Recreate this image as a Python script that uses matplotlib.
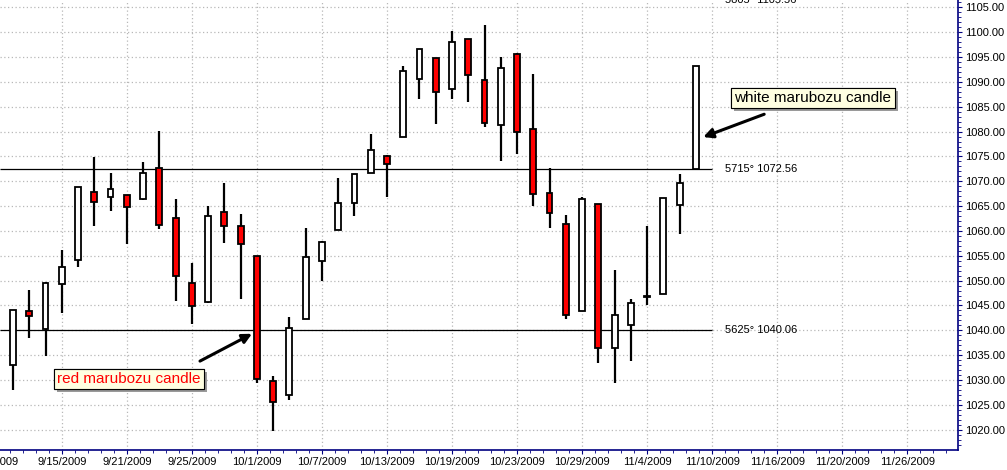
import numpy as np
import matplotlib
matplotlib.use("Agg")
from matplotlib import pyplot as plt
from matplotlib import transforms
from matplotlib import patheffects
from matplotlib.ticker import FixedLocator

plt.rcParams['font.family'] = ['Liberation Sans', 'DejaVu Sans']

# daily S&P 500 candles, 9/10/2009 - 11/9/2009
days = ["9/10", "9/11", "9/14", "9/15", "9/16", "9/17", "9/18", "9/21", "9/22", "9/23",
        "9/24", "9/25", "9/28", "9/29", "9/30", "10/1", "10/2", "10/5", "10/6", "10/7",
        "10/8", "10/9", "10/12", "10/13", "10/14", "10/15", "10/16", "10/19", "10/20", "10/21",
        "10/22", "10/23", "10/26", "10/27", "10/28", "10/29", "10/30", "11/2", "11/3", "11/4",
        "11/5", "11/6", "11/9"]
opens = [1033.0, 1043.9, 1040.2, 1049.3, 1054.1, 1067.9, 1066.8, 1067.2, 1066.4, 1072.6,
         1062.7, 1049.5, 1045.7, 1063.8, 1061.0, 1055.0, 1029.8, 1026.9, 1042.2, 1054.0,
         1060.1, 1065.7, 1071.7, 1075.1, 1078.9, 1090.6, 1094.9, 1088.5, 1098.6, 1090.4,
         1081.3, 1095.6, 1080.5, 1067.7, 1061.5, 1043.8, 1065.4, 1036.4, 1041.1, 1047.0,
         1047.3, 1065.2, 1072.4]
highs = [1044.1, 1048.1, 1049.7, 1056.2, 1068.9, 1074.9, 1071.7, 1067.3, 1073.9, 1080.1,
         1066.4, 1053.5, 1065.1, 1069.6, 1063.4, 1055.0, 1030.7, 1042.6, 1060.6, 1058.0,
         1070.6, 1071.5, 1079.5, 1075.3, 1093.2, 1096.6, 1094.9, 1100.2, 1098.6, 1101.4,
         1095.1, 1095.8, 1091.7, 1072.6, 1063.2, 1066.8, 1065.4, 1052.2, 1046.3, 1061.0,
         1066.7, 1071.5, 1093.3]
lows = [1028.0, 1038.4, 1034.9, 1043.4, 1052.8, 1061.0, 1064.1, 1057.4, 1066.3, 1060.3,
        1045.8, 1041.2, 1045.4, 1057.6, 1046.4, 1029.4, 1019.8, 1025.9, 1042.2, 1049.9,
        1060.1, 1063.0, 1071.6, 1066.8, 1078.9, 1086.5, 1081.5, 1086.5, 1086.0, 1080.9,
        1074.1, 1075.4, 1065.1, 1060.5, 1042.3, 1043.8, 1033.4, 1029.4, 1033.9, 1045.0,
        1047.3, 1059.3, 1072.4]
closes = [1044.1, 1042.9, 1049.5, 1052.8, 1068.9, 1065.8, 1068.5, 1064.8, 1071.7, 1061.2,
          1050.9, 1044.8, 1063.0, 1060.9, 1057.4, 1030.2, 1025.5, 1040.4, 1054.8, 1057.7,
          1065.6, 1071.5, 1076.3, 1073.5, 1092.2, 1096.6, 1088.0, 1098.0, 1091.4, 1081.7,
          1092.9, 1079.9, 1067.4, 1063.7, 1043.0, 1066.4, 1036.4, 1043.0, 1045.5, 1046.7,
          1066.7, 1069.6, 1093.3]

# axis labels every 4 trading days, starting one day before the first candle
date_labels = ["9/9/2009", "9/15/2009", "9/21/2009", "9/25/2009", "10/1/2009", "10/7/2009",
               "10/13/2009", "10/19/2009", "10/23/2009", "10/29/2009", "11/4/2009",
               "11/10/2009", "11/16/2009", "11/20/2009", "11/26/2009"]

# angle levels
level_angles = ["5625°", "5715°", "5805°"]
level_prices = [1040.06, 1072.56, 1105.56]

navy = '#000080'

fig = plt.figure(figsize=(10.07, 4.70), dpi=100)
ax = fig.add_axes([0, 1 - 450 / 470, 958 / 1007, 450 / 470])

x = np.arange(len(days))
o = np.array(opens)
c = np.array(closes)
up = c >= o

# wicks
ax.vlines(x, lows, highs, color='black', lw=1.6, zorder=3)
# bodies
body_bottom = np.minimum(o, c)
body_height = np.maximum(np.abs(c - o), 0.15)
colors = ['white' if u else '#ff0000' for u in up]
ax.bar(x, body_height, bottom=body_bottom, width=0.36, color=colors,
       edgecolor='black', linewidth=1.3, zorder=4)

# angle level lines
xmin_lim, xmax_lim = -0.8, 58.12
for ang, price in zip(level_angles[:2], level_prices[:2]):
    ax.hlines(price, xmin_lim, 43.0, color='black', lw=0.9, zorder=2)
    ax.text(43.8, price, ang + " " + "%.2f" % price, fontsize=8, va='center', ha='left')
ax.text(43.8, 1106.6, level_angles[2] + " " + "%.2f" % level_prices[2], fontsize=8,
        va='center', ha='left', clip_on=False)

ax.set_xlim(xmin_lim, xmax_lim)
ax.set_ylim(1015.9, 1106.5)

# x ticks
major_x = [-1 + 4 * k for k in range(len(date_labels))]
ax.set_xticks(major_x[1:])
ax.set_xticklabels(date_labels[1:])
ax.xaxis.set_minor_locator(FixedLocator(np.arange(-1, 59, 0.8)))
ax.text(-1, -0.016, date_labels[0], transform=transforms.blended_transform_factory(ax.transData, ax.transAxes),
        fontsize=8, ha='center', va='top', clip_on=False)

# y ticks on the right
ax.yaxis.tick_right()
ax.set_yticks(np.arange(1020, 1106, 5))
ax.set_yticklabels(["%.2f" % v for v in np.arange(1020, 1106, 5)])
ax.yaxis.set_minor_locator(FixedLocator(np.arange(1017, 1107, 1)))

ax.tick_params(axis='both', which='major', labelsize=8, length=3, color=navy, pad=2)
ax.tick_params(axis='both', which='minor', length=2, color=navy)
ax.tick_params(axis='y', which='both', right=True, left=False)

for side in ['top', 'left']:
    ax.spines[side].set_visible(False)
for side in ['right', 'bottom']:
    ax.spines[side].set_color(navy)
    ax.spines[side].set_linewidth(1.2)

ax.grid(True, which='major', color='#b8b8b8', linestyle=(0, (1, 2)), linewidth=0.9)
ax.set_axisbelow(True)

# callout boxes with shadows
boxes = [("white marubozu candle", 49.2, 1086.8, 'black', (46.2, 1083.5), (42.45, 1078.9)),
         ("red marubozu candle", 7.13, 1030.2, '#ff0000', (11.5, 1033.8), (14.7, 1039.3))]
for label, bx, by, tcolor, start, end in boxes:
    t = ax.text(bx, by, label, fontsize=11, ha='center', va='center', color=tcolor, zorder=6,
                bbox=dict(boxstyle='square,pad=0.2', fc='#ffffe1', ec='black', lw=0.8))
    t.get_bbox_patch().set_path_effects([
        patheffects.withSimplePatchShadow(offset=(2.2, -2.2), shadow_rgbFace='#9a9a9a', alpha=1.0),
        patheffects.Normal()])
    ax.annotate('', xy=end, xytext=start, zorder=6,
                arrowprops=dict(arrowstyle='-|>', color='black', lw=2.2, mutation_scale=14,
                                shrinkA=0, shrinkB=0))

plt.savefig('out.png', dpi=100)
